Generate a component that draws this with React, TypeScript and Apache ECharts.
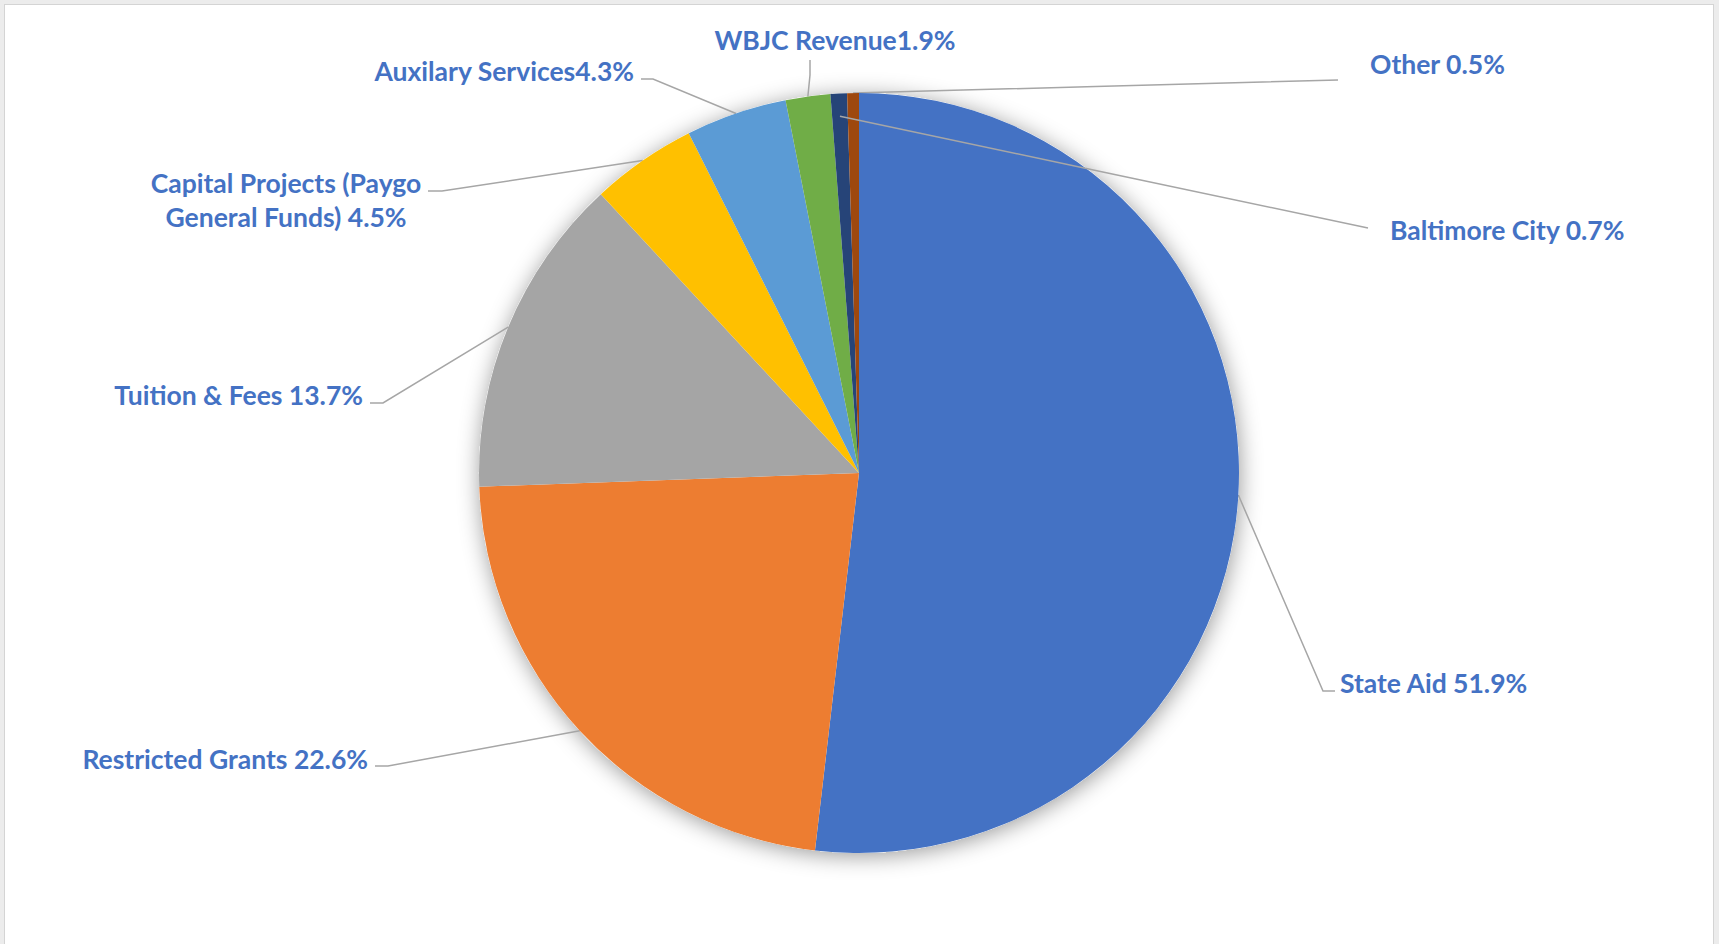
import React, { useEffect, useRef } from "react";
import * as echarts from "echarts";

// ---- Data ----
const categories = [
  "State Aid",
  "Restricted Grants",
  "Tuition & Fees",
  "Capital Projects (Paygo General Funds)",
  "Auxilary Services",
  "WBJC Revenue",
  "Baltimore City",
  "Other",
];
const values = [51.9, 22.6, 13.7, 4.5, 4.3, 1.9, 0.7, 0.5];
const labelNames = [
  "State Aid ",
  "Restricted Grants ",
  "Tuition & Fees ",
  "Capital Projects (Paygo\nGeneral Funds) ",
  "Auxilary Services",
  "WBJC Revenue",
  "Baltimore City ",
  "Other ",
];
const colors = ["#4472C4", "#ED7D31", "#A5A5A5", "#FFC000", "#5B9BD5", "#70AD47", "#264478", "#9E480E"];
// labels whose leader line crosses the pie and is drawn on top of it
const overlayLabels = [6];

// ---- Layout (styling only) ----
const CENTER: [number, number] = [859, 473];
const RADIUS = 380;
type LP = { x: number; y: number; align: string; pts: number[][]; inset?: number; straight?: boolean };
const labelPlaces: LP[] = [
  { x: 1340, y: 683, align: "left", pts: [[1323, 691], [1335, 691]] },
  { x: 368, y: 759, align: "right", pts: [[388, 766], [375, 766]] },
  { x: 363, y: 395, align: "right", pts: [[383, 403], [370, 403]] },
  { x: 286, y: 200, align: "center", pts: [[442, 191], [428, 191]] },
  { x: 634, y: 71, align: "right", pts: [[653, 79], [641, 79]] },
  { x: 835, y: 40, align: "center", pts: [[810, 75], [810, 60]] },
  { x: 1390, y: 230, align: "left", pts: [[1368, 228]], inset: 0.94, straight: true },
  { x: 1370, y: 64, align: "left", pts: [[1338, 80]], straight: true },
];

export default function App() {
  const ref = useRef<HTMLDivElement>(null);
  useEffect(() => {
    if (!ref.current) return;
    const chart = echarts.init(ref.current, undefined, { renderer: "svg" });
    const total = values.reduce((a, b) => a + b, 0);
    const midPoint = (i: number, f = 1) => {
      let cum = 0;
      for (let k = 0; k < i; k++) cum += values[k];
      const frac = (cum + values[i] / 2) / total;
      const ang = frac * Math.PI * 2;
      return [CENTER[0] + RADIUS * f * Math.sin(ang), CENTER[1] - RADIUS * f * Math.cos(ang)];
    };
    const labelStyle = {
      show: true,
      position: "outside",
      formatter: (p: any) => `${labelNames[p.dataIndex]}${values[p.dataIndex].toFixed(1)}%`,
      color: "#4472C4",
      fontFamily: "Lato",
      fontWeight: "bold",
      fontSize: 26.5,
      lineHeight: 34,
    };
    const lineStyle = { show: true, lineStyle: { color: "#A6A6A6", width: 1.5 } };
    const layout = (params: any) => {
      const i = params.dataIndex;
      const L = labelPlaces[i];
      let p0 = midPoint(i, L.inset ?? 1);
      if (!L.inset && params.labelLinePoints && params.labelLinePoints[0]) {
        p0 = params.labelLinePoints[0];
      }
      let pts = L.pts;
      if (L.straight) {
        const end = pts[0];
        pts = [[(p0[0] + end[0]) / 2, (p0[1] + end[1]) / 2], end];
      }
      return {
        x: L.x,
        y: L.y,
        align: L.align,
        verticalAlign: "middle",
        labelLinePoints: [p0, pts[0], pts[1]],
      };
    };
    chart.setOption({
      animation: false,
      backgroundColor: "transparent",
      series: [
        {
          type: "pie",
          silent: true,
          center: CENTER,
          radius: RADIUS,
          z: 1,
          label: { show: false },
          labelLine: { show: false },
          itemStyle: {
            color: "#ffffff",
            shadowBlur: 22,
            shadowOffsetX: 1,
            shadowOffsetY: 3,
            shadowColor: "rgba(0,0,0,0.4)",
          },
          data: [{ value: 1, name: "" }],
        },
        {
          type: "pie",
          center: CENTER,
          radius: RADIUS,
          startAngle: 90,
          clockwise: true,
          z: 2,
          emphasis: { disabled: true },
          itemStyle: { borderWidth: 0 },
          data: categories.map((c, i) => {
            const over = overlayLabels.includes(i);
            return {
              name: c,
              value: values[i],
              itemStyle: { color: colors[i] },
              label: { show: !over },
              labelLine: { show: !over },
            };
          }),
          label: labelStyle,
          labelLine: lineStyle,
          labelLayout: layout,
        },
        {
          type: "pie",
          silent: true,
          center: CENTER,
          radius: RADIUS,
          startAngle: 90,
          clockwise: true,
          z: 3,
          emphasis: { disabled: true },
          itemStyle: { color: "rgba(0,0,0,0)", borderWidth: 0 },
          data: categories.map((c, i) => {
            const over = overlayLabels.includes(i);
            return {
              name: c,
              value: values[i],
              label: { show: over },
              labelLine: { show: over },
            };
          }),
          label: labelStyle,
          labelLine: lineStyle,
          labelLayout: layout,
        },
      ],
    });
    return () => chart.dispose();
  }, []);

  return (
    <div style={{ position: "fixed", left: 0, top: 0, width: 1719, height: 944, background: "#ECECEC", overflow: "hidden" }}>
      <div
        style={{
          position: "absolute",
          left: 4,
          top: 4,
          width: 1710,
          height: 945,
          background: "#ffffff",
          border: "1px solid #D4D4D4",
          boxSizing: "border-box",
        }}
      />
      <div ref={ref} style={{ position: "absolute", left: 0, top: 0, width: 1719, height: 944 }} />
    </div>
  );
}
